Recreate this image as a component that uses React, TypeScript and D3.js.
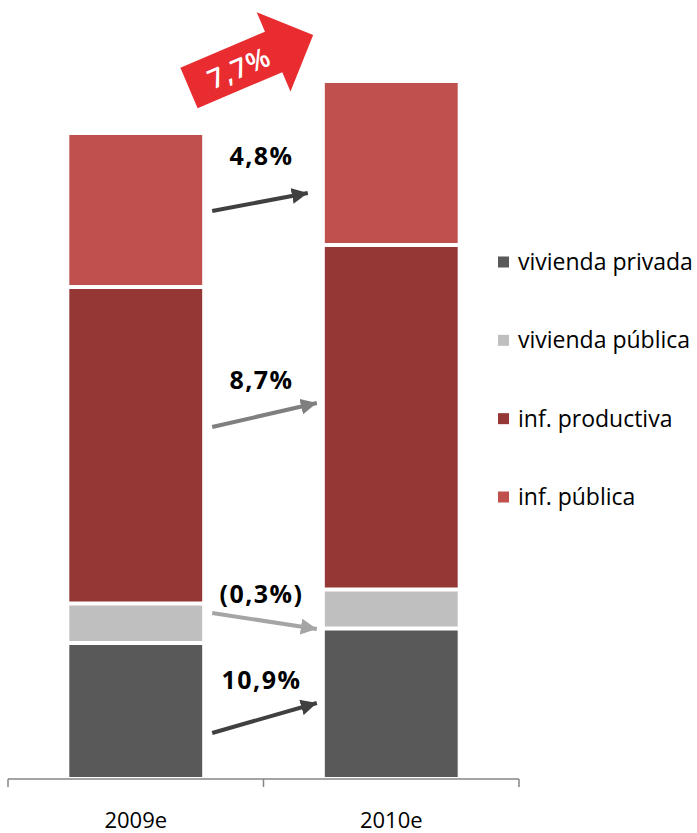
import { useEffect, useRef } from 'react'
import * as d3 from 'd3'

const years = ['2009e', '2010e']
const series = ['vivienda privada', 'vivienda pública', 'inf. productiva', 'inf. pública']
const colors = ['#595959', '#bfbfbf', '#953735', '#c0504d']
const viviendaPrivada = [13.6, 15.05]
const viviendaPublica = [3.95, 3.9]
const infProductiva = [31.65, 34.45]
const infPublica = [15.4, 16.4]

// growth annotations between the bars (y in data units)
const growthLabels = ['4,8%', '8,7%', '(0,3%)', '10,9%']
const growthFrom = [56.8, 35.2, 16.6, 4.6]
const growthTo = [58.6, 37.6, 15.0, 7.6]
const growthLabelY = [61.4, 39, 17.6, 9]
const growthColors = ['#404040', '#7f7f7f', '#a5a5a5', '#404040']
const growthTipGap = [17, 8, 8, 8]
const totalGrowth = '7,7%'

export default function App() {
  const svgRef = useRef<SVGSVGElement>(null)

  useEffect(() => {
    if (!svgRef.current) return
    const svg = d3.select(svgRef.current)
    svg.selectAll('*').remove()

    const font = '"Open Sans", sans-serif'
    const x = d3.scaleBand().domain(years).range([8, 519]).paddingInner(0.48).paddingOuter(0.24)
    const totals = years.map((_, i) => viviendaPrivada[i] + viviendaPublica[i] + infProductiva[i] + infPublica[i])
    const y = d3.scaleLinear().domain([0, d3.max(totals)!]).range([779, 81])

    const rows = years.map((yr, i) => ({
      year: yr,
      [series[0]]: viviendaPrivada[i],
      [series[1]]: viviendaPublica[i],
      [series[2]]: infProductiva[i],
      [series[3]]: infPublica[i],
    }))
    const stacked = d3.stack<any>().keys(series)(rows)
    const gap = 2

    stacked.forEach((layer, si) => {
      svg.append('g')
        .selectAll('rect')
        .data(layer)
        .join('rect')
        .attr('x', d => x(d.data.year)!)
        .attr('width', x.bandwidth())
        .attr('y', d => y(d[1]) + gap)
        .attr('height', d => y(d[0]) - y(d[1]) - gap * 2)
        .attr('fill', colors[si])
    })

    // axis with boundary ticks
    const axisY = 779
    const [r0, r1] = x.range()
    const tickXs = [r0, (r0 + r1) / 2, r1]
    svg.append('line')
      .attr('x1', r0).attr('x2', r1).attr('y1', axisY).attr('y2', axisY)
      .attr('stroke', '#868686').attr('stroke-width', 1.5)
    tickXs.forEach(tx => {
      svg.append('line')
        .attr('x1', tx).attr('x2', tx).attr('y1', axisY).attr('y2', axisY + 8)
        .attr('stroke', '#868686').attr('stroke-width', 1.5)
    })
    years.forEach(yr => {
      svg.append('text')
        .attr('x', x(yr)! + x.bandwidth() / 2)
        .attr('y', 828)
        .attr('text-anchor', 'middle')
        .attr('font-family', font)
        .attr('font-size', 22)
        .attr('fill', '#000')
        .text(yr)
    })

    // growth arrows
    const defs = svg.append('defs')
    growthColors.forEach((c, i) => {
      defs.append('marker')
        .attr('id', `head${i}`)
        .attr('viewBox', '0 0 10 10')
        .attr('refX', 10).attr('refY', 5)
        .attr('markerWidth', 4).attr('markerHeight', 4)
        .attr('markerUnits', 'strokeWidth')
        .attr('orient', 'auto')
        .append('path')
        .attr('d', 'M0,0 L10,5 L0,10 Z')
        .attr('fill', c)
    })
    const leftEdge = x(years[0])! + x.bandwidth()
    const rightEdge = x(years[1])!
    const mid = (leftEdge + rightEdge) / 2
    growthLabels.forEach((lbl, i) => {
      svg.append('line')
        .attr('x1', leftEdge + 10)
        .attr('y1', y(growthFrom[i]))
        .attr('x2', rightEdge - growthTipGap[i])
        .attr('y2', y(growthTo[i]))
        .attr('stroke', growthColors[i])
        .attr('stroke-width', 4)
        .attr('marker-end', `url(#head${i})`)
      svg.append('text')
        .attr('x', mid - 2)
        .attr('y', y(growthLabelY[i]))
        .attr('text-anchor', 'middle')
        .attr('font-family', font)
        .attr('font-weight', 'bold')
        .attr('font-size', 25)
        .attr('letter-spacing', 1.5)
        .attr('fill', '#000')
        .text(lbl)
    })

    // big red total growth arrow
    const big = svg.append('g').attr('transform', 'translate(189,88) rotate(-23.1)')
    big.append('path')
      .attr('d', 'M0,-22 L92,-22 L92,-43 L135,0 L92,43 L92,22 L0,22 Z')
      .attr('fill', '#e82c30')
    big.append('text')
      .attr('x', 54).attr('y', 11)
      .attr('text-anchor', 'middle')
      .attr('font-family', font)
      .attr('font-size', 27)
      .attr('font-weight', 600)
      .attr('letter-spacing', 1)
      .attr('fill', '#fff')
      .text(totalGrowth)

    // legend
    const legendY = d3.scalePoint().domain(series).range([262, 497])
    series.forEach((s, i) => {
      const ly = legendY(s)!
      svg.append('rect')
        .attr('x', 498).attr('y', ly - 5.5)
        .attr('width', 11).attr('height', 11)
        .attr('fill', colors[i])
      svg.append('text')
        .attr('x', 518).attr('y', ly + 8)
        .attr('font-family', font)
        .attr('font-size', 23)
        .attr('fill', '#000')
        .text(s)
    })
  }, [])

  return (
    <svg
      ref={svgRef}
      width={697}
      height={833}
      style={{ position: 'absolute', left: 0, top: 0, display: 'block', background: '#fff' }}
    />
  )
}
